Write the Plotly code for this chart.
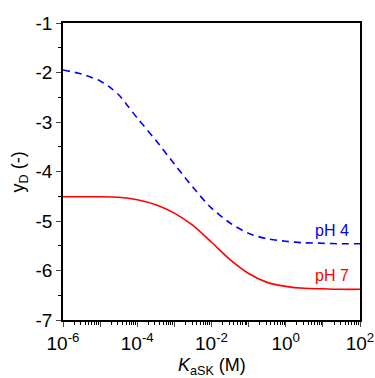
import plotly.graph_objects as go

log_k4 = [-6, -5.5, -5, -4.75, -4.5, -4.25, -4, -3.5, -3, -2.5, -2, -1.5, -1, -0.5, 0, 0.5, 1, 1.5, 2]
y_ph4 = [-1.95, -2.03, -2.17, -2.29, -2.45, -2.68, -2.92, -3.37, -3.85, -4.32, -4.74, -5.04, -5.25, -5.36, -5.41, -5.44, -5.45, -5.46, -5.46]
log_k7 = [-6, -5.5, -5, -4.5, -4, -3.5, -3, -2.5, -2, -1.5, -1, -0.5, 0, 0.5, 1, 1.5, 2]
y_ph7 = [-4.51, -4.51, -4.51, -4.52, -4.57, -4.67, -4.84, -5.09, -5.43, -5.78, -6.06, -6.24, -6.32, -6.36, -6.37, -6.38, -6.38]
k4 = [10 ** v for v in log_k4]
k7 = [10 ** v for v in log_k7]

x_ticks = [1e-6, 1e-5, 1e-4, 1e-3, 1e-2, 1e-1, 1e0, 1e1, 1e2]
x_ticktext = ["10<sup>-6</sup>", "", "10<sup>-4</sup>", "", "10<sup>-2</sup>", "", "10<sup>0</sup>", "", "10<sup>2</sup>"]
x_minor = [m * 10 ** d for d in range(-6, 2) for m in range(2, 10)]
y_ticks = [-1, -2, -3, -4, -5, -6, -7]
y_ticktext = ["-1", "-2", "-3", "-4", "-5", "-6", "-7"]
y_minor = [-1.5, -2.5, -3.5, -4.5, -5.5, -6.5]

FONT = "Liberation Sans, Arial"

fig = go.Figure()
fig.add_trace(go.Scatter(x=k4, y=y_ph4, mode="lines",
                         line=dict(color="#0000FF", width=1.6, dash="7px,5px", shape="spline", smoothing=0.8),
                         showlegend=False))
fig.add_trace(go.Scatter(x=k7, y=y_ph7, mode="lines",
                         line=dict(color="#FF0000", width=1.6, shape="spline", smoothing=0.8),
                         showlegend=False))

fig.add_annotation(x=1.25, y=-5.2, xref="x", yref="y", text="pH 4", showarrow=False,
                   font=dict(color="#0000FF", size=16, family=FONT))
fig.add_annotation(x=1.25, y=-6.11, xref="x", yref="y", text="pH 7", showarrow=False,
                   font=dict(color="#FF0000", size=16, family=FONT))
fig.add_annotation(x=0.5, y=-0.155, xref="paper", yref="paper", text="<i>K</i><sub>aSK</sub> (M)",
                   showarrow=False, xanchor="center", yanchor="middle",
                   font=dict(color="black", size=18, family=FONT))
fig.add_annotation(x=-0.145, y=0.5, xref="paper", yref="paper", text="y<sub>D</sub> (-)",
                   showarrow=False, xanchor="center", yanchor="middle", textangle=-90,
                   font=dict(color="black", size=18, family=FONT))

fig.update_layout(
    width=375, height=378,
    margin=dict(l=63, r=15, t=23, b=58, autoexpand=False),
    paper_bgcolor="white", plot_bgcolor="white",
    font=dict(family=FONT, size=19, color="black"),
    xaxis=dict(type="log", range=[-6, 2], tickmode="array", tickvals=x_ticks, ticktext=x_ticktext,
               ticks="outside", ticklen=5, tickwidth=1.2, showline=True, linecolor="black", linewidth=1.5,
               mirror=True, showgrid=False, zeroline=False, tickfont=dict(size=19), automargin=False,
               minor=dict(tickmode="array", tickvals=x_minor, ticks="outside", ticklen=3, tickwidth=1,
                          tickcolor="black", showgrid=False)),
    yaxis=dict(range=[-7, -1], tickmode="array", tickvals=y_ticks, ticktext=y_ticktext,
               ticks="outside", ticklen=5, tickwidth=1.2, tickfont=dict(size=19), automargin=False,
               showline=True, linecolor="black", linewidth=1.5, mirror=True, showgrid=False, zeroline=False,
               minor=dict(tickmode="array", tickvals=y_minor, ticks="outside", ticklen=3, tickwidth=1,
                          tickcolor="black", showgrid=False)),
)

fig.write_html("out.html", config={"displayModeBar": False},
               post_script="document.body.style.margin='0px';document.body.style.overflow='hidden';")
